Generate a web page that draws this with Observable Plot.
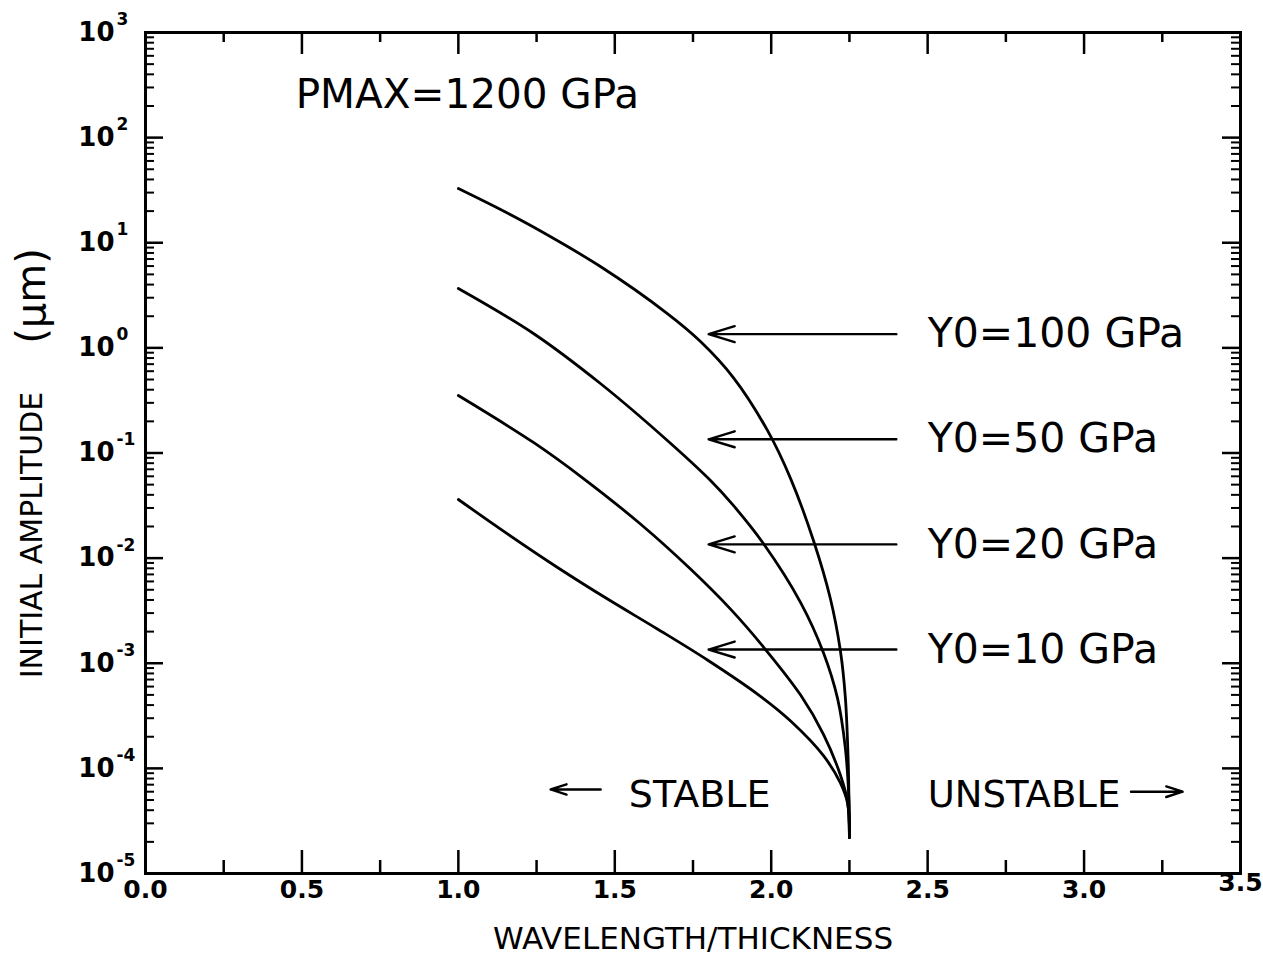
<!DOCTYPE html>
<html>
<head>
<meta charset="utf-8">
<script src="https://cdn.jsdelivr.net/npm/d3@7"></script>
<script src="https://cdn.jsdelivr.net/npm/@observablehq/plot@0.6"></script>
<style>
  body { margin: 0; background: #fff; }
  #chart svg { display: block; }
</style>
</head>
<body>
<div id="chart"></div>
<script>
// Critical initial amplitude vs. wavelength/thickness, PMAX = 1200 GPa
const ratio100 = [1.0, 1.135, 1.24, 1.454, 1.668, 1.774, 1.879, 1.988, 2.062, 2.135, 2.189, 2.221, 2.237, 2.246, 2.2485, 2.25];
const amp100   = [32.8, 20.7, 14.1, 5.94, 2.12, 1.15, 0.522, 0.164, 0.0571, 0.0147, 4.13e-3, 1.32e-3, 4.72e-4, 1.19e-4, 4.9e-5, 2.2e-5];

const ratio50 = [1.0, 1.24, 1.454, 1.668, 1.806, 1.879, 1.975, 2.094, 2.167, 2.212, 2.237, 2.2485, 2.25];
const amp50   = [3.67, 1.37, 0.458, 0.1315, 0.0547, 0.0317, 0.01377, 3.78e-3, 1.26e-3, 4.63e-4, 1.55e-4, 4.9e-5, 2.2e-5];

const ratio20 = [1.0, 1.24, 1.40, 1.582, 1.742, 1.870, 1.975, 2.094, 2.167, 2.221, 2.244, 2.25];
const amp20   = [0.352, 0.126, 0.0571, 0.0211, 7.87e-3, 3.27e-3, 1.43e-3, 4.98e-4, 2.11e-4, 8.65e-5, 4.84e-5, 2.2e-5];

const ratio10 = [1.0, 1.157, 1.317, 1.477, 1.636, 1.796, 1.956, 2.062, 2.167, 2.221, 2.244, 2.25];
const amp10   = [0.0361, 0.0170, 8.15e-3, 4.08e-3, 2.12e-3, 1.074e-3, 5.09e-4, 2.82e-4, 1.32e-4, 7.28e-5, 4.67e-5, 2.2e-5];

const seriesNames = ["Y0=100 GPa", "Y0=50 GPa", "Y0=20 GPa", "Y0=10 GPa"];
const arrowLevels = [1.35, 0.135, 0.0135, 0.00135];

const xMajor = [0, 0.5, 1.0, 1.5, 2.0, 2.5, 3.0, 3.5];
const xMinor = [0.25, 0.75, 1.25, 1.75, 2.25, 2.75, 3.25];
const yExponents = [-5, -4, -3, -2, -1, 0, 1, 2, 3];

// Long-format table for the line mark
const curves = [
  [seriesNames[0], ratio100, amp100],
  [seriesNames[1], ratio50, amp50],
  [seriesNames[2], ratio20, amp20],
  [seriesNames[3], ratio10, amp10]
];
const rows = curves.flatMap(([name, xs, ys]) => xs.map((x, i) => ({series: name, ratio: x, amp: ys[i]})));

const yMajor = yExponents.map(e => Math.pow(10, e));
const yMinor = yExponents.slice(0, -1).flatMap(e => d3.range(2, 10).map(k => k * Math.pow(10, e)));

const W = 1263, H = 962;
const mL = 145, mR = 23, mT = 32, mB = 89;
const innerH = H - mT - mB;
const innerW = W - mL - mR;

const labelArrows = arrowLevels.map((v, i) => ({x1: 2.40, x2: 1.80, y: v, label: seriesNames[i]}));

const font = "DejaVu Sans, sans-serif";
const tickLabelStyle = {frameAnchor: "bottom", text: d => d.toFixed(1), fontSize: 25, fontWeight: "bold", fill: "#000"};

const chart = Plot.plot({
  width: W,
  height: H,
  marginLeft: mL,
  marginRight: mR,
  marginTop: mT,
  marginBottom: mB,
  style: {fontFamily: font, background: "#fff", color: "#000"},
  x: {domain: [0, 3.5], axis: null},
  y: {type: "log", domain: [1e-5, 1e3], axis: null},
  marks: [
    // inward tick marks on all four sides
    Plot.ruleX(xMajor, {x: d => d, insetTop: innerH - 23, strokeWidth: 2.5}),
    Plot.ruleX(xMinor, {x: d => d, insetTop: innerH - 13, strokeWidth: 2.5}),
    Plot.ruleX(xMajor, {x: d => d, insetBottom: innerH - 22, strokeWidth: 2.5}),
    Plot.ruleX(xMinor, {x: d => d, insetBottom: innerH - 10, strokeWidth: 2.5}),
    Plot.ruleY(yMajor, {y: d => d, insetRight: innerW - 18, strokeWidth: 2.5}),
    Plot.ruleY(yMinor, {y: d => d, insetRight: innerW - 9, strokeWidth: 2}),
    Plot.ruleY(yMajor, {y: d => d, insetLeft: innerW - 18, strokeWidth: 2.5}),
    Plot.ruleY(yMinor, {y: d => d, insetLeft: innerW - 9, strokeWidth: 2}),
    Plot.frame({stroke: "#000", strokeWidth: 3}),

    // amplitude curves
    Plot.line(rows, {x: "ratio", y: "amp", z: "series", curve: "catmull-rom", stroke: "#000", strokeWidth: 2.8}),

    // series labels with pointing arrows
    Plot.arrow(labelArrows, {x1: "x1", x2: "x2", y1: "y", y2: "y", stroke: "#000", strokeWidth: 2.4, headLength: 17, headAngle: 34}),
    Plot.text(labelArrows, {x: 2.5, y: "y", text: "label", textAnchor: "start", fontSize: 41, fill: "#000"}),

    // stability region annotations
    Plot.arrow([{x1: 1.455, x2: 1.295, y: 6.3e-5}], {x1: "x1", x2: "x2", y1: "y", y2: "y", stroke: "#000", strokeWidth: 2.4, headLength: 17, headAngle: 36}),
    Plot.text(["STABLE"], {x: 1.545, y: 5.6e-5, textAnchor: "start", fontSize: 38, fill: "#000"}),
    Plot.text(["UNSTABLE"], {x: 2.5, y: 5.6e-5, textAnchor: "start", fontSize: 37, fill: "#000"}),
    Plot.arrow([{x1: 3.15, x2: 3.315, y: 6.0e-5}], {x1: "x1", x2: "x2", y1: "y", y2: "y", stroke: "#000", strokeWidth: 2.4, headLength: 17, headAngle: 36}),

    Plot.text(["PMAX=1200 GPa"], {x: 0.48, y: 256, textAnchor: "start", fontSize: 40.5, fill: "#000"}),

    // x tick labels (the last one sits a little higher, at the frame's corner)
    Plot.text(xMajor.filter(d => d < 3.5), {x: d => d, dy: 24, ...tickLabelStyle}),
    Plot.text(xMajor.filter(d => d === 3.5), {x: d => d, dy: 17, ...tickLabelStyle}),
    // y tick labels: 10 with superscript exponent
    Plot.text(yMajor, {y: d => d, frameAnchor: "left", dx: -31, textAnchor: "end", text: () => "10", fontSize: 26, fontWeight: "bold", fill: "#000"}),
    Plot.text(yExponents, {y: e => Math.pow(10, e), frameAnchor: "left", dx: -29, dy: -13, textAnchor: "start", text: e => String(e), fontSize: 17, fontWeight: "bold", fill: "#000"}),

    // axis titles
    Plot.text(["WAVELENGTH/THICKNESS"], {x: 1.75, frameAnchor: "bottom", dy: 75, fontSize: 31, fill: "#000"}),
    Plot.text(["INITIAL AMPLITUDE"], {frameAnchor: "left", textAnchor: "middle", dx: -113, dy: 82, rotate: -90, fontSize: 30, fill: "#000"}),
    Plot.text(["(\u03bcm)"], {frameAnchor: "left", textAnchor: "middle", dx: -113, dy: -157, rotate: -90, fontSize: 40, fill: "#000"})
  ]
});

document.getElementById("chart").append(chart);
</script>
</body>
</html>
